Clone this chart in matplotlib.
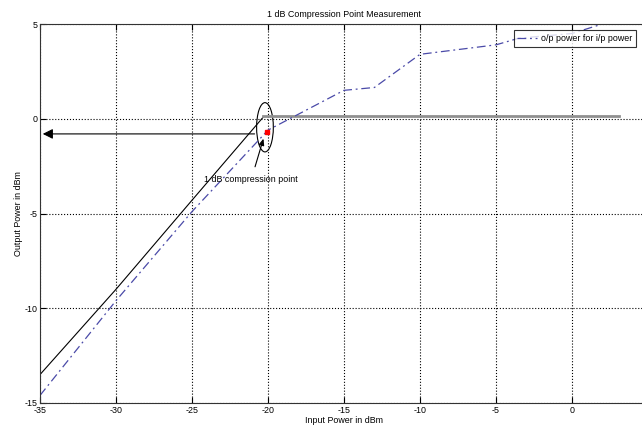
import matplotlib
matplotlib.use("Agg")
import matplotlib.pyplot as plt
from matplotlib.patches import Ellipse

# measured o/p power (blue dash-dot)
pin = [-35, -30, -25, -20, -15, -13, -10, -5, -3.5, 0, 2]
pout = [-14.6, -9.6, -4.9, -0.6, 1.5, 1.65, 3.4, 3.9, 4.25, 4.5, 5.0]
# ideal linear response (black) and saturation level (grey)
lin_x = [-35, -30, -25, -20.3]
lin_y = [-13.5, -9.0, -4.3, 0.1]
sat_x = [-20.3, 3.1]
sat_y = [0.15, 0.15]
cp_x, cp_y = -20.05, -0.7

plt.rcParams["font.family"] = ["Liberation Sans", "DejaVu Sans"]
plt.rcParams["axes.unicode_minus"] = False
FS = 6.4

fig = plt.figure(figsize=(6.42, 4.28), dpi=100)
ax = fig.add_axes([40 / 642, 25 / 428, 608 / 642, 379 / 428])

ax.plot(lin_x, lin_y, color="k", lw=0.8)
ax.plot(sat_x, sat_y, color="#909090", lw=2)
ax.plot(pin, pout, color="#4a4aa8", lw=0.9, dashes=(7, 3, 1.5, 3),
        label="o/p power for i/p power")
ax.plot([cp_x], [cp_y], "s", color="red", ms=3.5)

ax.add_patch(Ellipse((-20.2, -0.45), 1.1, 2.6, fill=False, ec="k", lw=0.8))
ax.annotate("", xy=(-35, -0.8), xytext=(-20.7, -0.8),
            arrowprops=dict(arrowstyle="-|>,head_length=0.6,head_width=0.3", color="k", lw=0.8))
ax.annotate("1 dB compression point", xy=(-20.3, -1.05), xytext=(-21.1, -3.2),
            ha="center", va="center", fontsize=FS,
            arrowprops=dict(arrowstyle="-|>,head_length=0.6,head_width=0.25", color="k", lw=0.8,
                            shrinkA=4, shrinkB=0))

ax.set_xlim(-35, 5)
ax.set_ylim(-15, 5)
ax.set_xticks(range(-35, 1, 5))
ax.set_yticks(range(-15, 6, 5))
ax.grid(True, ls=":", color="k", lw=0.8)
ax.tick_params(direction="in", labelsize=FS, top=True, right=True, length=4, pad=2)
for s in ax.spines.values():
    s.set_linewidth(0.8)
    s.set_color("#333333")

ax.set_title("1 dB Compression Point Measurement", fontsize=FS, pad=5)
ax.set_xlabel("Input Power in dBm", fontsize=FS, labelpad=1)
ax.set_ylabel("Output Power in dBm", fontsize=FS, labelpad=1)
leg = ax.legend(loc="upper right", fontsize=FS, frameon=True, fancybox=False, edgecolor="k",
                handlelength=2.2, handletextpad=0.5, borderaxespad=0.3,
                bbox_to_anchor=(0.985, 0.99))
leg.get_frame().set_linewidth(0.8)

fig.savefig("out.png", dpi=100)
